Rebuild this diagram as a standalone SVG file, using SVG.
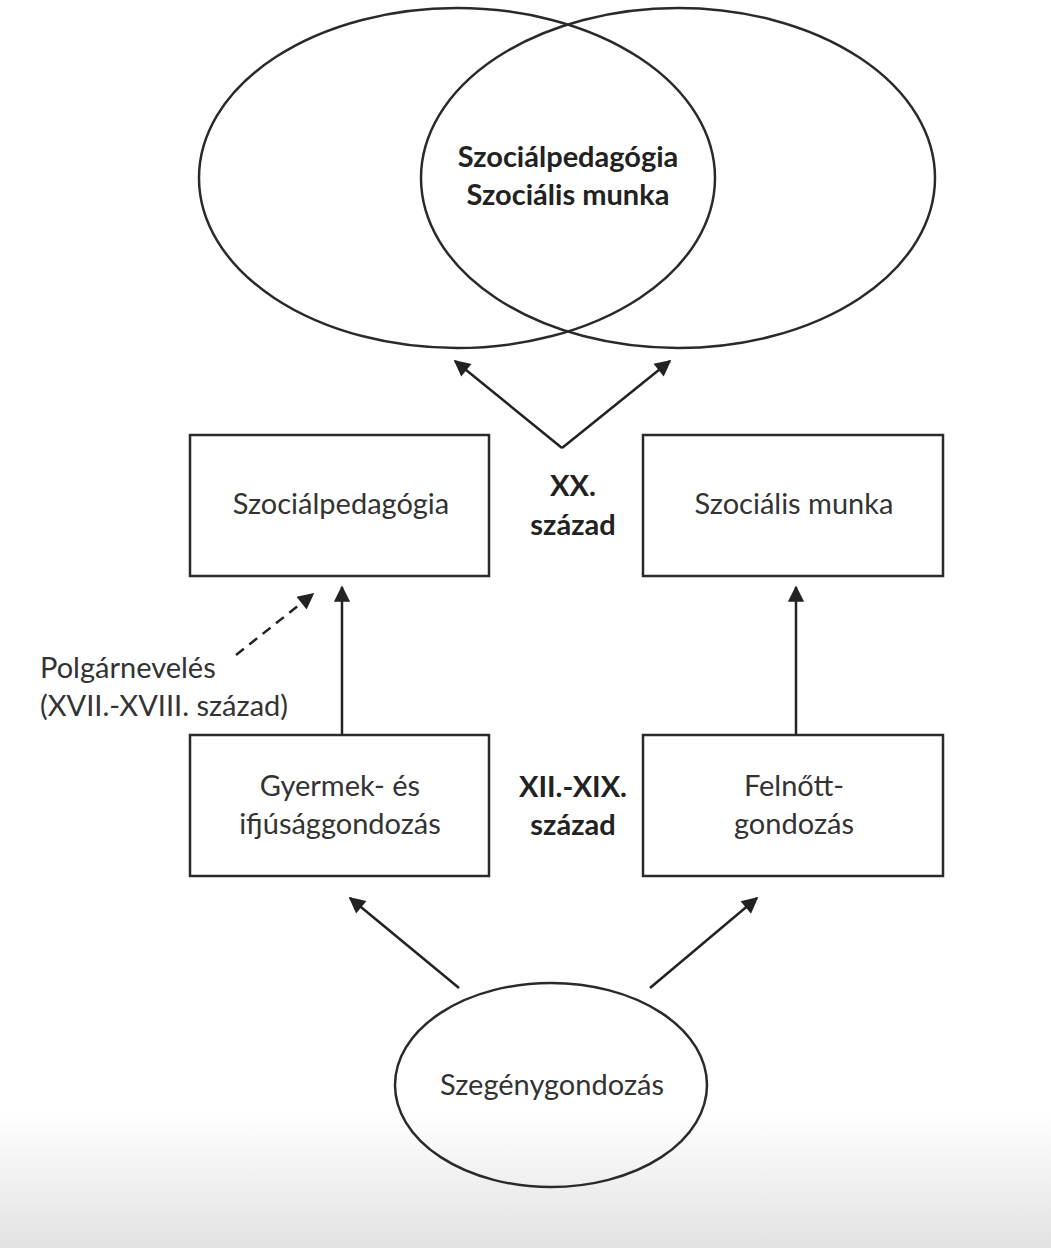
<svg xmlns="http://www.w3.org/2000/svg" width="1051" height="1248" viewBox="0 0 1051 1248">
<defs>
<linearGradient id="bg" x1="0" y1="0" x2="0" y2="1">
<stop offset="0" stop-color="#ffffff"/>
<stop offset="1" stop-color="#e2e2e2"/>
</linearGradient>
<marker id="ah" viewBox="0 0 10 10" refX="9" refY="5" markerWidth="7" markerHeight="6.5" markerUnits="strokeWidth" orient="auto">
<path d="M0,0 L10,5 L0,10 z" fill="#222"/>
</marker>
</defs>
<style>
.sh{fill:none;stroke:#2a2a2a;stroke-width:2.5}
.box{fill:#fff;stroke:#2a2a2a;stroke-width:2.5}
.t{font-family:Lato,"Open Sans","Liberation Sans",sans-serif;font-size:29px;fill:#333;text-anchor:middle}
.b{font-weight:bold;fill:#222}
.l{text-anchor:start}
.c{fill:none;stroke:#222;stroke-width:2.5}
</style>
<rect x="0" y="0" width="1051" height="1248" fill="#fff"/>
<rect x="0" y="1110" width="1051" height="138" fill="url(#bg)"/>

<g id="venn">
<ellipse class="sh" cx="457" cy="178" rx="258" ry="170"/>
<ellipse class="sh" cx="678" cy="178" rx="257" ry="170"/>
<text class="t b" x="568" y="167">Szociálpedagógia</text>
<text class="t b" x="568" y="205">Szociális munka</text>
</g>

<g id="szocped">
<rect class="box" x="190" y="435" width="299" height="141"/>
<text class="t" x="341" y="514">Szociálpedagógia</text>
</g>

<g id="szocmunka">
<rect class="box" x="643" y="435" width="300" height="141"/>
<text class="t" x="794" y="514">Szociális munka</text>
</g>

<g id="xx">
<text class="t b" x="573" y="496">XX.</text>
<text class="t b" x="573" y="535">század</text>
</g>

<g id="gyermek">
<rect class="box" x="190" y="735" width="299" height="141"/>
<text class="t" x="340" y="796">Gyermek- és</text>
<text class="t" x="340" y="834">ifjúsággondozás</text>
</g>

<g id="felnott">
<rect class="box" x="643" y="735" width="300" height="141"/>
<text class="t" x="794" y="796">Felnőtt-</text>
<text class="t" x="794" y="834">gondozás</text>
</g>

<g id="xii">
<text class="t b" x="573" y="797">XII.-XIX.</text>
<text class="t b" x="573" y="835">század</text>
</g>

<g id="polgar">
<text class="t l" x="40" y="678">Polgárnevelés</text>
<text class="t l" x="40" y="716">(XVII.-XVIII. század)</text>
</g>

<g id="szegeny">
<ellipse class="sh" cx="551" cy="1085" rx="156" ry="102"/>
<text class="t" x="552" y="1095">Szegénygondozás</text>
</g>

<g id="connectors">
<line class="c" x1="562" y1="448" x2="455" y2="361" marker-end="url(#ah)"/>
<line class="c" x1="562" y1="448" x2="670" y2="361" marker-end="url(#ah)"/>
<line class="c" x1="236" y1="655" x2="313" y2="594" stroke-dasharray="10,7" marker-end="url(#ah)"/>
<line class="c" x1="342" y1="735" x2="342" y2="587" marker-end="url(#ah)"/>
<line class="c" x1="796" y1="735" x2="796" y2="587" marker-end="url(#ah)"/>
<line class="c" x1="459" y1="988" x2="350" y2="898" marker-end="url(#ah)"/>
<line class="c" x1="650" y1="988" x2="757" y2="898" marker-end="url(#ah)"/>
</g>
</svg>
